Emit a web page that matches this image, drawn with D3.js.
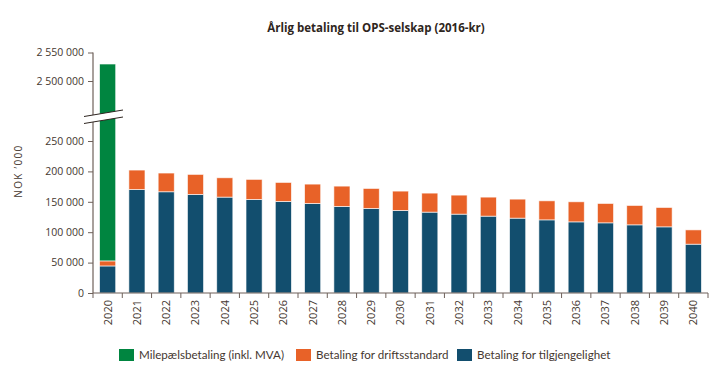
<!DOCTYPE html>
<html lang="no">
<head>
<meta charset="UTF-8">
<title>Årlig betaling til OPS-selskap</title>
<script src="https://cdn.jsdelivr.net/npm/d3@7"></script>
<style>
    body { margin: 0; background: #fff; }
    svg { display: block; }
    .tick text { font-family: "Open Sans", sans-serif; fill: #45372f; }
    .legend text { font-family: "Lato", sans-serif; font-size: 11.6px; fill: #45372f; }
</style>
</head>
<body>
<svg id="chart" width="720" height="383"></svg>
<script>
    // values (NOK '000, 2016-kr)
    const years = ["2020","2021","2022","2023","2024","2025","2026","2027","2028","2029","2030",
                   "2031","2032","2033","2034","2035","2036","2037","2038","2039","2040"];
    const tilgjengelighet = [44500, 170200, 166500, 162100, 157700, 153900, 150600, 147300, 142400, 139100, 135800,
                             133000, 129700, 126400, 123100, 120300, 117000, 115400, 112100, 108800, 80300];
    const driftsstandard = [8300, 32000, 30800, 33000, 31800, 33000, 31300, 31800, 33400, 32900, 31800,
                            31300, 31300, 31300, 31300, 31300, 33000, 31900, 31900, 31900, 23500];
    const milepael = [2477000, 0, 0, 0, 0, 0, 0, 0, 0, 0, 0,
                      0, 0, 0, 0, 0, 0, 0, 0, 0, 0];
    const lowTicks = [0, 50000, 100000, 150000, 200000, 250000];
    const highTicks = [2500000, 2550000];

    const seriesKeys = ["tilgjengelighet", "driftsstandard", "milepael"];
    const colors = { tilgjengelighet: "#124e6e", driftsstandard: "#e86228", milepael: "#008540" };
    const legendItems = [
        { key: "milepael", label: "Milepælsbetaling (inkl. MVA)", x: 119 },
        { key: "driftsstandard", label: "Betaling for driftsstandard", x: 296 },
        { key: "tilgjengelighet", label: "Betaling for tilgjengelighet", x: 457 }
    ];

    const table = years.map((yr, i) => ({
        year: yr,
        tilgjengelighet: tilgjengelighet[i],
        driftsstandard: driftsstandard[i],
        milepael: milepael[i]
    }));

    const svg = d3.select("#chart");
    const axisColor = "#6e615a";

    const x = d3.scaleBand().domain(years).range([93, 708]).paddingInner(0.45).paddingOuter(0.225);
    // broken y axis: two linear pieces
    const yLow = d3.scaleLinear().domain([0, 250000]).range([293, 141]);
    const yHigh = d3.scaleLinear().domain([2500000, 2550000]).range([81, 52.5]);
    const breakValue = 1000000;
    const y = v => v > breakValue ? yHigh(v) : yLow(v);

    const stacked = d3.stack().keys(seriesKeys)(table);

    svg.append("g")
        .selectAll("g")
        .data(stacked)
        .join("g")
        .attr("fill", d => colors[d.key])
        .selectAll("rect")
        .data(d => d.filter(p => p[1] - p[0] > 0))
        .join("rect")
        .attr("x", d => x(d.data.year))
        .attr("width", x.bandwidth())
        .attr("y", d => y(d[1]))
        .attr("height", d => y(d[0]) - y(d[1]))
        .attr("stroke", "#fff")
        .attr("stroke-opacity", 0.75)
        .attr("stroke-width", 0.8);

    // y axes
    const fmt = v => d3.format(",")(v).replace(/,/g, " ");
    const yAxisLow = svg.append("g")
        .attr("transform", "translate(93,0)")
        .call(d3.axisLeft(yLow).tickValues(lowTicks).tickFormat(fmt).tickSize(5).tickPadding(4));
    const yAxisHigh = svg.append("g")
        .attr("transform", "translate(93,0)")
        .call(d3.axisLeft(yHigh).tickValues(highTicks).tickFormat(fmt).tickSize(5).tickPadding(4));
    [yAxisLow, yAxisHigh].forEach(g => {
        g.select(".domain").remove();
        g.selectAll(".tick line").attr("stroke", axisColor);
        g.selectAll(".tick text").style("font-size", "10.5px");
    });
    svg.append("line")
        .attr("x1", 93).attr("x2", 93)
        .attr("y1", yHigh(2550000)).attr("y2", yLow(0))
        .attr("stroke", axisColor).attr("stroke-width", 1.2);

    // break marks
    svg.append("polygon")
        .attr("points", "84,116.5 123,110 123,117 84,123.5")
        .attr("fill", "#fff");
    [[116.5, 110], [123.5, 117]].forEach(([a, b]) => {
        svg.append("line")
            .attr("x1", 84).attr("y1", a).attr("x2", 123).attr("y2", b)
            .attr("stroke", "#2e2520").attr("stroke-width", 1);
    });

    // x axis
    const xAxis = svg.append("g")
        .attr("transform", `translate(0,${yLow(0)})`)
        .call(d3.axisBottom(x).tickSize(0).tickPadding(7));
    xAxis.select(".domain").remove();
    xAxis.selectAll(".tick text")
        .style("font-size", "11px")
        .attr("transform", "rotate(-90)")
        .attr("text-anchor", "end")
        .attr("dy", "0.35em")
        .attr("x", -7)
        .attr("y", 0);
    svg.append("line")
        .attr("x1", 93).attr("x2", x.range()[1])
        .attr("y1", yLow(0)).attr("y2", yLow(0))
        .attr("stroke", axisColor).attr("stroke-width", 1.2);
    const boundaries = d3.range(years.length + 1).map(i => x.range()[0] + i * x.step());
    svg.append("g")
        .selectAll("line")
        .data(boundaries)
        .join("line")
        .attr("x1", d => d).attr("x2", d => d)
        .attr("y1", yLow(0)).attr("y2", yLow(0) + 5)
        .attr("stroke", axisColor);

    // y label
    svg.append("text")
        .attr("transform", "translate(22,171) rotate(-90)")
        .attr("text-anchor", "middle")
        .style("font-family", "'Open Sans', sans-serif")
        .style("font-size", "10px")
        .style("letter-spacing", "1.3px")
        .style("fill", "#45372f")
        .text("NOK ’000");

    // title
    svg.append("text")
        .attr("x", 376)
        .attr("y", 32)
        .attr("text-anchor", "middle")
        .style("font-family", "'Open Sans', sans-serif")
        .style("font-weight", "bold")
        .style("font-size", "11.5px")
        .style("fill", "#2e2520")
        .text("Årlig betaling til OPS-selskap (2016-kr)");

    // legend
    const legend = svg.append("g").attr("class", "legend");
    const li = legend.selectAll("g")
        .data(legendItems)
        .join("g")
        .attr("transform", d => `translate(${d.x},349)`);
    li.append("rect")
        .attr("width", 15).attr("height", 12)
        .attr("fill", d => colors[d.key]);
    li.append("text")
        .attr("x", 20).attr("y", 10)
        .text(d => d.label);
</script>
</body>
</html>
